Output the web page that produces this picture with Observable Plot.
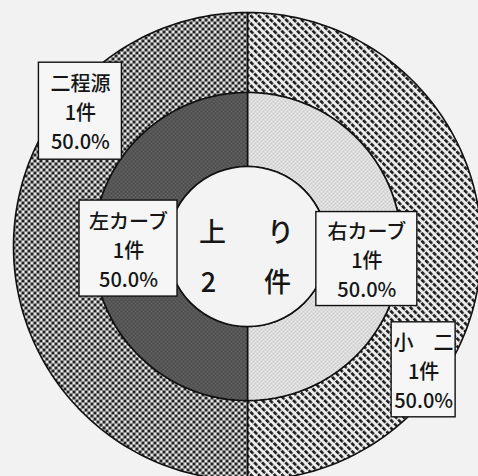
<!DOCTYPE html>
<html><head><meta charset="utf-8">
<script src="https://cdn.jsdelivr.net/npm/d3@7"></script>
<script src="https://cdn.jsdelivr.net/npm/@observablehq/plot@0.6"></script>
<style>
html,body{margin:0;padding:0;background:#f2f2f2;}
#chart{width:478px;height:476px;overflow:hidden;}
</style></head><body><div id="chart"></div>
<script>
// ---- data ----
const centerTitle = "上り";
const countUnit = "件";
const innerCategories = ["右カーブ", "左カーブ"];
const innerCounts = [1, 1];
const outerCategories = ["小二", "二程源"];
const outerCounts = [1, 1];

// ---- layout / style (not data) ----
const W = 478, H = 476, CX = 247, CY = 246;
const R = {hole: 80, inner: 154, outer: 234};
const fills = {
  "右カーブ": "url(#pInnerR)", "左カーブ": "url(#pInnerL)",
  "小二": "url(#pOuterR)", "二程源": "url(#pOuterL)"
};
const labelLayout = {
  "二程源":   {angle: 309, r: 215, w: 83, h: 97},
  "左カーブ": {angle: 269, r: 119, w: 98, h: 96},
  "右カーブ": {angle: 96,  r: 120, w: 101, h: 94},
  "小二":     {angle: 125, r: 215, w: 64, h: 95}
};

const innerData = innerCategories.map((name, i) => ({name, count: innerCounts[i]}));
const outerData = outerCategories.map((name, i) => ({name, count: outerCounts[i]}));
const pieGen = d3.pie().sort(null).value(d => d.count);

function slicePolys(data, r0, r1) {
  const total = d3.sum(data, d => d.count);
  return pieGen(data).map(a => {
    const pts = [], n = 120;
    for (let i = 0; i <= n; i++) {
      const t = a.startAngle + (a.endAngle - a.startAngle) * i / n;
      pts.push({x: r1 * Math.sin(t), y: -r1 * Math.cos(t)});
    }
    for (let i = n; i >= 0; i--) {
      const t = a.startAngle + (a.endAngle - a.startAngle) * i / n;
      pts.push({x: r0 * Math.sin(t), y: -r0 * Math.cos(t)});
    }
    return {name: a.data.name, count: a.data.count, pct: a.data.count / total * 100, pts};
  });
}
const outerSlices = slicePolys(outerData, R.inner, R.outer);
const innerSlices = slicePolys(innerData, R.hole, R.inner);

const labels = [...outerSlices, ...innerSlices].map(s => {
  const L = labelLayout[s.name];
  const a = L.angle * Math.PI / 180;
  const x = L.r * Math.sin(a), y = -L.r * Math.cos(a);
  const disp = s.name.length === 2 ? Array.from(s.name).join("\u3000") : s.name;
  return {x, y, x1: x - L.w / 2, x2: x + L.w / 2, y1: y - L.h / 2, y2: y + L.h / 2,
          text: `${disp}\n${s.count}${countUnit}\n${s.pct.toFixed(1)}%`};
});

const total = d3.sum(innerCounts);
const centerChars = [
  ...Array.from(centerTitle).map((c, i) => ({c, x: i === 0 ? -35 : 33, y: -13})),
  ...Array.from(`${total}${countUnit}`).map((c, i) => ({c, x: i === 0 ? -39 : 30, y: 37}))
];

const marks = [];
for (const s of outerSlices) marks.push(Plot.line(s.pts, {x: "x", y: "y", curve: "linear-closed", fill: fills[s.name], stroke: "#111", strokeWidth: 1.6}));
for (const s of innerSlices) marks.push(Plot.line(s.pts, {x: "x", y: "y", curve: "linear-closed", fill: fills[s.name], stroke: "#111", strokeWidth: 1.6}));
marks.push(Plot.dot([{x: 0, y: 0}], {x: "x", y: "y", r: R.hole, fill: "#f3f3f3", stroke: "#111", strokeWidth: 1.6}));
marks.push(Plot.rect(labels, {x1: "x1", x2: "x2", y1: "y1", y2: "y2", fill: "#f6f6f6", stroke: "#111", strokeWidth: 1.4}));
marks.push(Plot.text(labels, {x: "x", y: "y", text: "text", fontSize: 20, fontWeight: 500, lineHeight: 1.45, fill: "#151515"}));
marks.push(Plot.text(centerChars, {x: "x", y: "y", text: "c", fontSize: 27, fontWeight: 500, fill: "#151515"}));

const svg = Plot.plot({
  width: W, height: H, margin: 0,
  x: {domain: [-CX, W - CX], range: [0, W], axis: null},
  y: {domain: [-CY, H - CY], range: [0, H], axis: null},
  style: {background: "#f2f2f2", fontFamily: "'Noto Sans CJK JP', sans-serif"},
  marks
});

const defs = d3.select(svg).insert("defs", ":first-child");
function pat(id, w, h, transform) {
  const p = defs.append("pattern").attr("id", id).attr("patternUnits", "userSpaceOnUse").attr("width", w).attr("height", h);
  if (transform) p.attr("patternTransform", transform);
  return p;
}
let p = pat("pOuterL", 6, 6);
p.append("rect").attr("width", 6).attr("height", 6).attr("fill", "#efefef");
p.append("circle").attr("cx", 1.5).attr("cy", 1.5).attr("r", 1.75).attr("fill", "#1c1c1c");
p.append("circle").attr("cx", 4.5).attr("cy", 4.5).attr("r", 1.75).attr("fill", "#1c1c1c");
p = pat("pOuterR", 5.5, 5.5, "rotate(-45)");
p.append("rect").attr("width", 5.5).attr("height", 5.5).attr("fill", "#efefef");
p.append("rect").attr("width", 2.6).attr("height", 4.2).attr("fill", "#1c1c1c");
p = pat("pInnerL", 4, 4);
p.append("rect").attr("width", 4).attr("height", 4).attr("fill", "#4a4a4a");
p.append("circle").attr("cx", 1).attr("cy", 1).attr("r", 0.9).attr("fill", "#6e6e6e");
p.append("circle").attr("cx", 3).attr("cy", 3).attr("r", 0.9).attr("fill", "#6e6e6e");
p = pat("pInnerR", 4, 4);
p.append("rect").attr("width", 4).attr("height", 4).attr("fill", "#ececec");
p.append("circle").attr("cx", 1).attr("cy", 1).attr("r", 0.85).attr("fill", "#a8a8a8");
p.append("circle").attr("cx", 3).attr("cy", 3).attr("r", 0.85).attr("fill", "#a8a8a8");

document.getElementById("chart").appendChild(svg);
</script></body></html>
